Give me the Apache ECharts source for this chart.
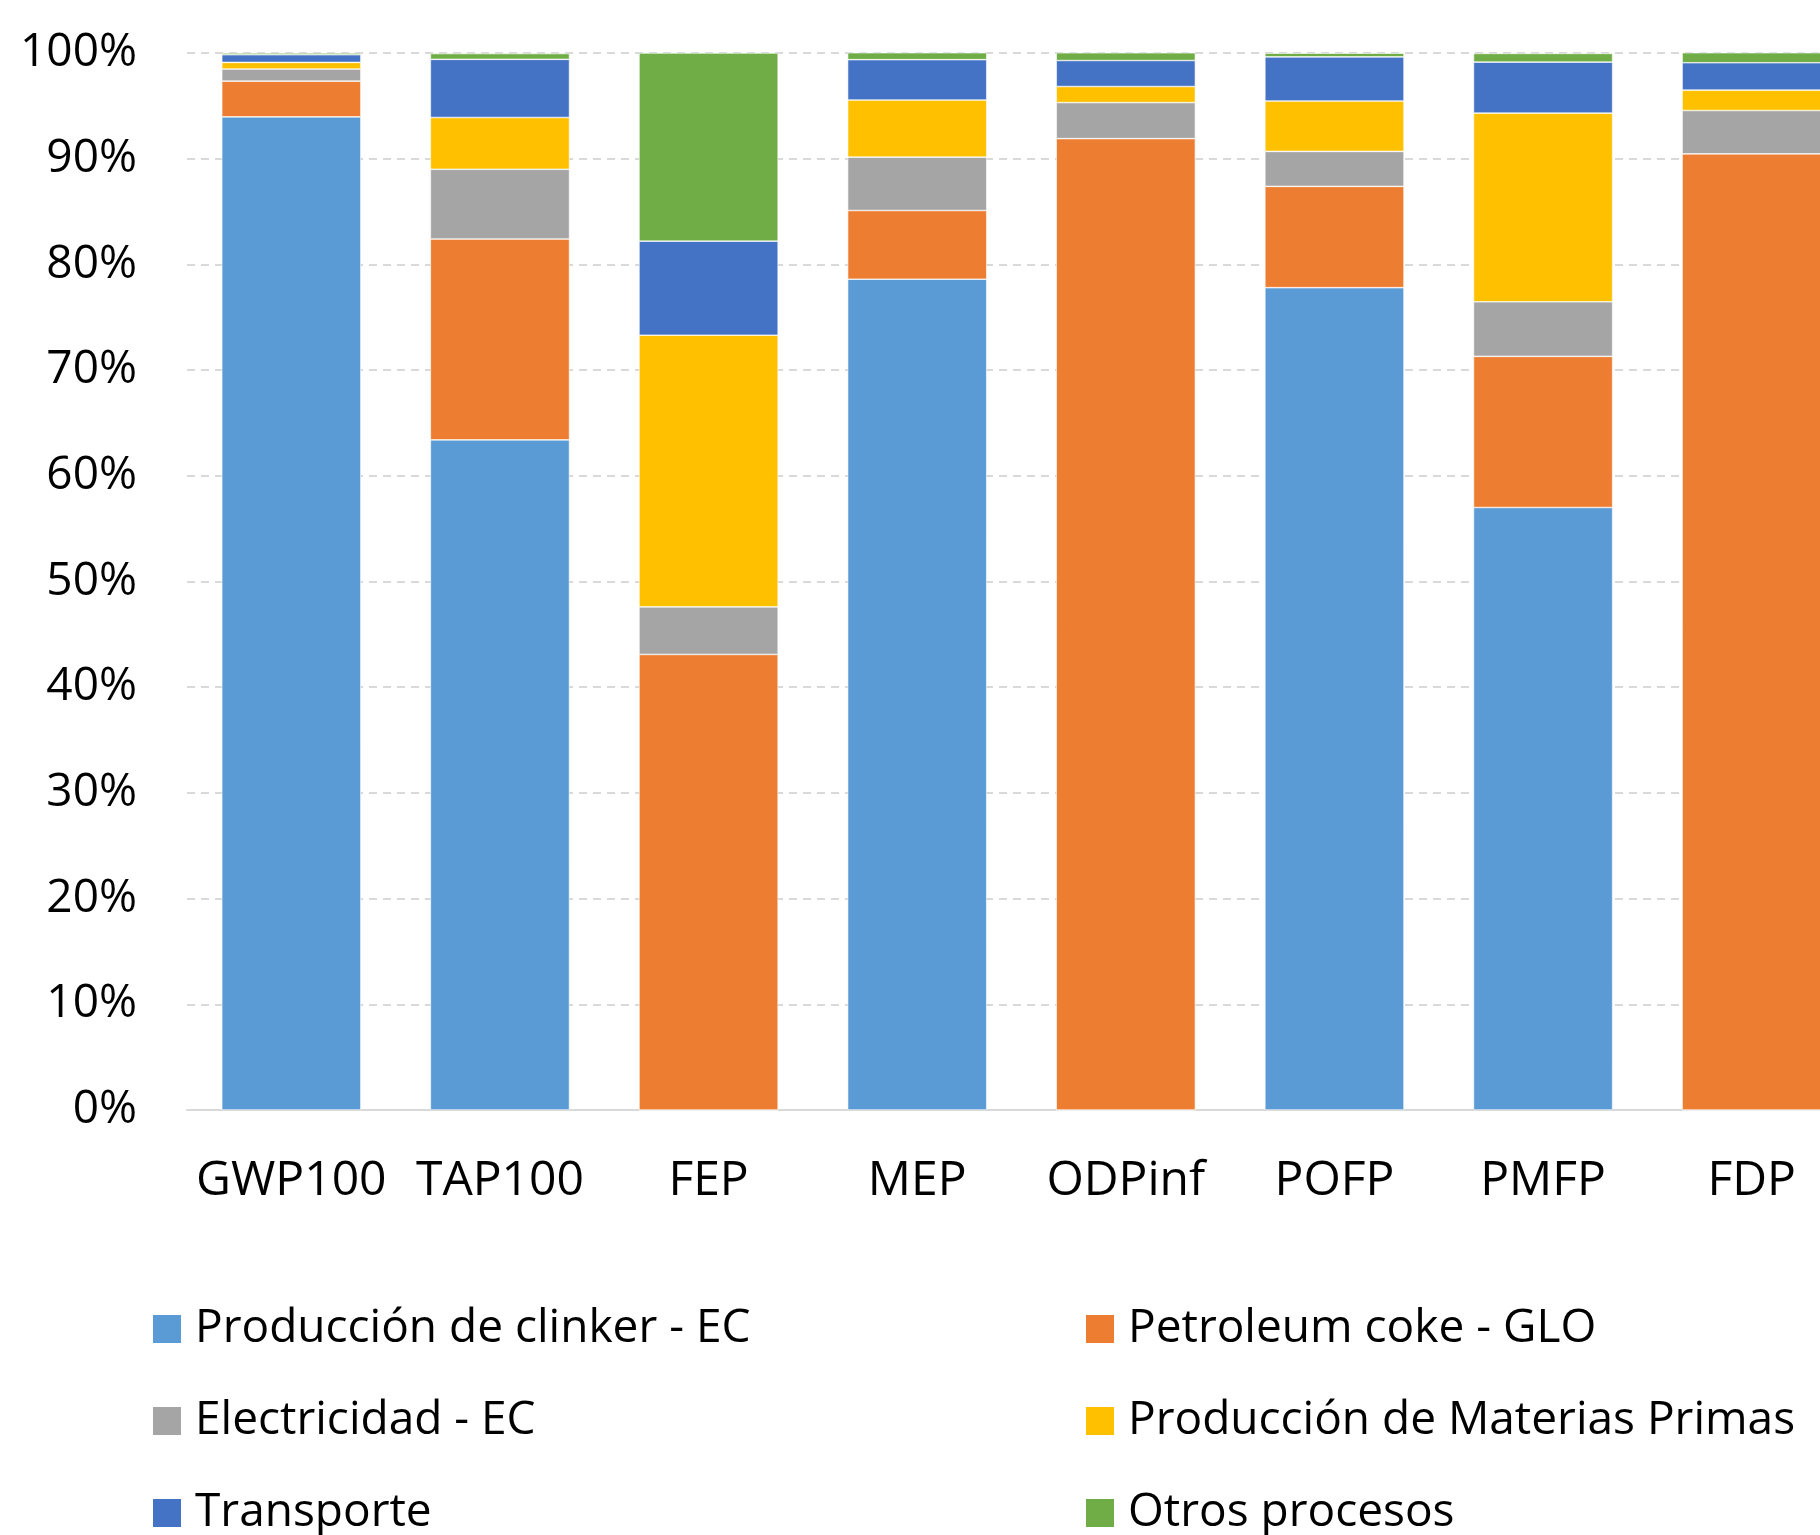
<!DOCTYPE html>
<html>
<head>
<meta charset="utf-8">
<script src="https://cdn.jsdelivr.net/npm/echarts@6/dist/echarts.min.js"></script>
<style>
  html, body { margin: 0; padding: 0; background: #fff; overflow: hidden; }
  #main { width: 1860px; height: 1535px; }
</style>
</head>
<body>
<div id="main"></div>
<script>
// impact categories
var categories = ['GWP100', 'TAP100', 'FEP', 'MEP', 'ODPinf', 'POFP', 'PMFP', 'FDP'];

// contribution of each process (%)
var clinker    = [93.96, 63.4, 0,    78.6, 0,     77.8, 57.0,  0];
var petcoke    = [3.38,  19.0, 43.1, 6.5,  91.9,  9.58, 14.3,  90.46];
var electric   = [1.14,  6.6,  4.5,  5.05, 3.41,  3.31, 5.16,  4.1];
var materias   = [0.63,  4.9,  25.7, 5.4,  1.52,  4.77, 17.85, 1.93];
var transporte = [0.73,  5.5,  8.9,  3.82, 2.46,  4.17, 4.83,  2.59];
var otros      = [0.16,  0.55, 17.8, 0.66, 0.73,  0.35, 0.82,  0.95];

var names = ['Producción de clinker - EC', 'Petroleum coke - GLO', 'Electricidad - EC',
             'Producción de Materias Primas', 'Transporte', 'Otros procesos'];
var colors = ['#5B9BD5', '#ED7D31', '#A5A5A5', '#FFC000', '#4472C4', '#70AD47'];
var values = [clinker, petcoke, electric, materias, transporte, otros];

var font = 'Open Sans';

function bar(i) {
    return {
        name: names[i],
        type: 'bar',
        stack: 'total',
        barCategoryGap: '33.3%',
        itemStyle: {color: colors[i], borderColor: '#fff', borderWidth: 0.6},
        data: values[i]
    };
}

// one legend per entry: two columns, three rows
function legendItem(i) {
    var col = i % 2, row = Math.floor(i / 2);
    return {
        left: col ? 1084 : 151,
        top: 1306 + row * 92,
        padding: 0,
        itemWidth: 30,
        itemHeight: 30,
        icon: 'rect',
        data: [names[i]],
        textStyle: {fontFamily: font, fontSize: 46, color: '#000', lineHeight: 46, padding: [0, 0, 0, 8]}
    };
}

var myChart = echarts.init(document.getElementById('main'));
var option = {
    animation: false,
    color: colors,
    grid: {left: 187, top: 53, right: 4, height: 1057},
    legend: [0, 1, 2, 3, 4, 5].map(legendItem),
    xAxis: {
        type: 'category',
        data: categories,
        axisLine: {lineStyle: {color: '#d9d9d9', width: 2}},
        axisTick: {show: false},
        axisLabel: {fontFamily: font, fontSize: 48, color: '#000', margin: 47, interval: 0}
    },
    yAxis: {
        type: 'value',
        min: 0,
        max: 100,
        interval: 10,
        axisLine: {show: false},
        axisTick: {show: false},
        splitLine: {lineStyle: {color: '#d9d9d9', type: [8, 6], width: 2}},
        axisLabel: {fontFamily: font, fontSize: 46, color: '#000', margin: 50, formatter: '{value}%'}
    },
    series: [bar(0), bar(1), bar(2), bar(3), bar(4), bar(5)]
};
myChart.setOption(option);
</script>
</body>
</html>
